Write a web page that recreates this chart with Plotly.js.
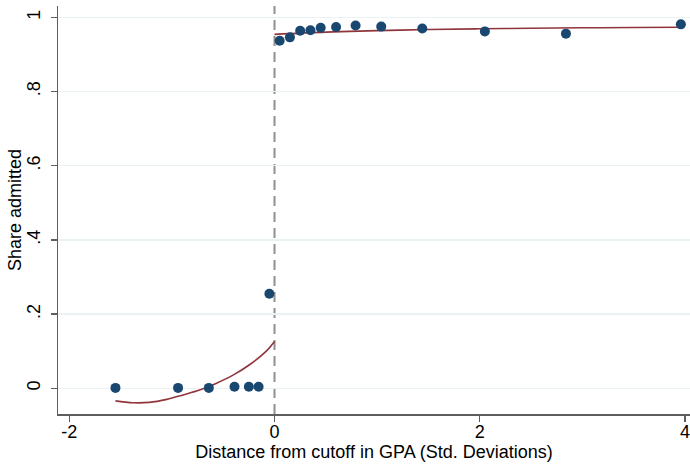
<!DOCTYPE html>
<html>
<head>
<meta charset="utf-8">
<script src="https://cdn.plot.ly/plotly-3.0.1.min.js"></script>
<style>
  html, body { margin: 0; padding: 0; background: #ffffff; }
  #chart { width: 690px; height: 464px; }
</style>
</head>
<body>
<div id="chart"></div>
<script>
// Binned means of admission share by distance from the GPA cutoff
const binX = [-1.55, -0.94, -0.64, -0.39, -0.25, -0.155, -0.05,
              0.05, 0.15, 0.25, 0.35, 0.45, 0.60, 0.79, 1.04, 1.44, 2.05, 2.84, 3.96];
const binY = [0.001, 0.001, 0.001, 0.004, 0.004, 0.004, 0.255,
              0.937, 0.946, 0.964, 0.965, 0.972, 0.974, 0.978, 0.975, 0.970, 0.962, 0.956, 0.981];

// Fitted curve below the cutoff
const fitLeftX = [-1.55, -1.38, -1.22, -1.05, -0.89, -0.73, -0.57, -0.40, -0.24, -0.08, 0];
const fitLeftY = [-0.034, -0.039, -0.038, -0.030, -0.018, -0.005, 0.013, 0.036, 0.064, 0.100, 0.126];

// Fitted curve above the cutoff
const fitRightX = [0, 0.5, 1.0, 1.5, 2.0, 2.5, 3.0, 3.5, 3.96];
const fitRightY = [0.954, 0.960, 0.964, 0.967, 0.969, 0.9706, 0.9717, 0.9725, 0.9733];

// Axis ticks
const xTickVals = [-2, 0, 2, 4];
const xTickText = ['-2', '0', '2', '4'];
const yTickVals = [0, 0.2, 0.4, 0.6, 0.8, 1];
const yTickText = ['0', '.2', '.4', '.6', '.8', '1'];
const yRange = [-0.0694, 1.0305];

const navy = '#1a476f';
const maroon = '#90353b';
const axisGray = '#5e5e5e';

const traces = [
  {
    x: fitLeftX, y: fitLeftY, type: 'scatter', mode: 'lines',
    line: { color: maroon, width: 1.6, shape: 'spline' },
    hoverinfo: 'skip', showlegend: false
  },
  {
    x: fitRightX, y: fitRightY, type: 'scatter', mode: 'lines',
    line: { color: maroon, width: 1.6, shape: 'spline' },
    hoverinfo: 'skip', showlegend: false
  },
  {
    // bin means sit on the label axis (same range), drawn above the fits
    x: binX, y: binY, type: 'scatter', mode: 'markers', yaxis: 'y2',
    marker: { color: navy, size: 10, line: { width: 0 } },
    showlegend: false
  }
];

const font = { family: 'Liberation Sans, Arial, sans-serif', size: 18, color: '#000000' };

const layout = {
  width: 690, height: 464,
  margin: { l: 53, r: 0, t: 6, b: 50, pad: 0 },
  paper_bgcolor: '#ffffff', plot_bgcolor: '#ffffff',
  font: font,
  showlegend: false,
  xaxis: {
    domain: [5 / 637, 1],
    range: [-2.11, 4.049],
    tickmode: 'array', tickvals: xTickVals, ticktext: xTickText,
    showgrid: false, zeroline: false,
    showline: true, linecolor: axisGray, linewidth: 1.5,
    ticks: 'outside', ticklen: 6, tickwidth: 1.5, tickcolor: axisGray,
    ticklabelstandoff: -5,
    tickfont: font,
    title: { text: 'Distance from cutoff in GPA (Std. Deviations)', font: font, standoff: 0 }
  },
  // main y axis: line, ticks and gridlines
  yaxis: {
    range: yRange,
    tickmode: 'array', tickvals: yTickVals,
    showticklabels: false,
    showgrid: true, gridcolor: '#eaf2f3', gridwidth: 1.5,
    zeroline: false,
    showline: true, linecolor: axisGray, linewidth: 1.5,
    ticks: 'outside', ticklen: 6, tickwidth: 1.5, tickcolor: axisGray
  },
  // label-only y axis set slightly further out for vertical tick labels
  yaxis2: {
    overlaying: 'y', anchor: 'free', position: 0, side: 'left',
    range: yRange,
    tickmode: 'array', tickvals: yTickVals, ticktext: yTickText,
    tickangle: -90,
    showgrid: false, zeroline: false, showline: false,
    ticks: 'outside', ticklen: 6, tickcolor: 'rgba(0,0,0,0)',
    tickfont: font
  },
  annotations: [
    {
      // y-axis title, placed by pixel offset from the plot's left edge
      text: 'Share admitted', textangle: -90,
      xref: 'paper', yref: 'paper', x: 0, y: 0.5,
      xshift: -38, xanchor: 'center', yanchor: 'middle',
      showarrow: false, font: font
    }
  ],
  shapes: [
    {
      type: 'line', xref: 'x', yref: 'paper',
      x0: 0, x1: 0, y0: 0, y1: 1,
      line: { color: '#909090', width: 2, dash: '10px,6px' },
      layer: 'below'
    }
  ]
};

Plotly.newPlot('chart', traces, layout, { displayModeBar: false, staticPlot: true });
</script>
</body>
</html>
